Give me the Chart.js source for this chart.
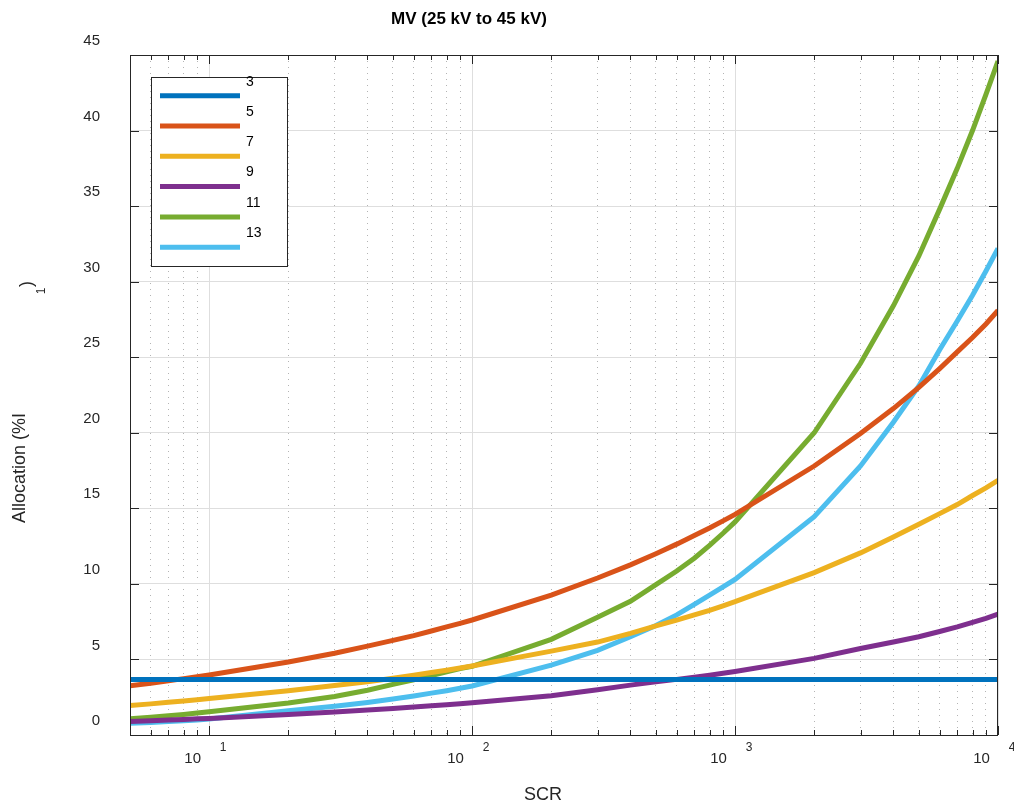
<!DOCTYPE html>
<html>
<head>
<meta charset="utf-8">
<script src="https://cdn.jsdelivr.net/npm/chart.js@4.4.1/dist/chart.umd.min.js"></script>
<style>
  html, body { margin: 0; padding: 0; background: #fff; }
</style>
</head>
<body>
<canvas id="c" width="1014" height="803"></canvas>
<script>
// ─── data ────────────────────────────────────────────────────────────────
const SCR = [5, 6, 7, 8, 9, 10, 20, 30, 40, 50, 60, 70, 80, 90,
  100, 200, 300, 400, 500, 600, 700, 800, 900,
  1000, 2000, 3000, 4000, 5000, 6000, 7000, 8000, 9000, 10000];

const H3  = [3.68, 3.68, 3.68, 3.68, 3.68, 3.68, 3.68, 3.68, 3.68, 3.68, 3.68, 3.68, 3.68, 3.68,
  3.68, 3.68, 3.68, 3.68, 3.68, 3.68, 3.68, 3.68, 3.68,
  3.68, 3.68, 3.68, 3.68, 3.68, 3.68, 3.68, 3.68, 3.68, 3.68];
const H5  = [3.26, 3.43, 3.59, 3.73, 3.85, 3.97, 4.83, 5.41, 5.88, 6.26, 6.58, 6.88, 7.15, 7.39,
  7.61, 9.26, 10.39, 11.26, 12.0, 12.63, 13.2, 13.7, 14.17,
  14.6, 17.8, 19.95, 21.6, 23.0, 24.25, 25.35, 26.3, 27.2, 28.1];
const H7  = [1.96, 2.06, 2.16, 2.25, 2.33, 2.41, 2.93, 3.27, 3.53, 3.76, 3.95, 4.13, 4.29, 4.43,
  4.57, 5.55, 6.15, 6.72, 7.22, 7.6, 7.95, 8.25, 8.55,
  8.82, 10.75, 12.05, 13.1, 13.95, 14.65, 15.25, 15.85, 16.35, 16.85];
const H9  = [0.9, 0.95, 0.99, 1.03, 1.07, 1.1, 1.35, 1.52, 1.65, 1.76, 1.85, 1.93, 2.0, 2.07,
  2.14, 2.6, 3.0, 3.3, 3.52, 3.68, 3.82, 3.96, 4.08,
  4.2, 5.07, 5.72, 6.15, 6.5, 6.85, 7.15, 7.45, 7.72, 8.0];
const H11 = [1.08, 1.18, 1.27, 1.36, 1.45, 1.54, 2.12, 2.55, 2.96, 3.35, 3.65, 3.94, 4.18, 4.4,
  4.55, 6.33, 7.8, 8.85, 9.95, 10.85, 11.7, 12.55, 13.35,
  14.1, 20.0, 24.6, 28.4, 31.7, 34.8, 37.5, 40.0, 42.4, 44.6];
const H13 = [0.77, 0.83, 0.89, 0.95, 1.0, 1.06, 1.6, 1.9, 2.15, 2.38, 2.58, 2.77, 2.93, 3.09,
  3.24, 4.62, 5.6, 6.5, 7.25, 7.95, 8.65, 9.25, 9.8,
  10.3, 14.45, 17.8, 20.7, 23.1, 25.5, 27.4, 29.1, 30.7, 32.2];

const HARMONICS = ['3', '5', '7', '9', '11', '13'];
const SERIES    = [H3, H5, H7, H9, H11, H13];

const X_TICKS   = [6, 7, 8, 9, 10, 20, 30, 40, 50, 60, 70, 80, 90,
  100, 200, 300, 400, 500, 600, 700, 800, 900,
  1000, 2000, 3000, 4000, 5000, 6000, 7000, 8000, 9000, 10000];
const DECADES   = [10, 100, 1000, 10000];
const EXPONENTS = ['1', '2', '3', '4'];

// ─── styling ─────────────────────────────────────────────────────────────
const CC = {
  text:  '#262626',
  grid:  '#dedede',
  dots:  '#b4b4b4',
  lines: ['#0072BD', '#D95319', '#EDB120', '#7E2F8E', '#77AC30', '#4DBEEE'],
};
const FONT = '"Liberation Sans", Arial, Helvetica, sans-serif';

const isDecade = v => Math.abs(Math.log10(v) - Math.round(Math.log10(v))) < 1e-9;

// MATLAB-ish decorations: box, inward ticks, odd label placement, legend
const matlabDecor = {
  id: 'matlabDecor',
  afterDraw(chart) {
    const { ctx, chartArea: a, scales: { x, y } } = chart;
    ctx.save();

    // box + inward tick marks
    ctx.strokeStyle = CC.text;
    ctx.lineWidth = 1;
    ctx.beginPath();
    x.ticks.forEach(t => {
      const px = Math.round(x.getPixelForValue(t.value)) + 0.5;
      const len = isDecade(t.value) ? 9 : 5;
      ctx.moveTo(px, a.bottom); ctx.lineTo(px, a.bottom - len);
      ctx.moveTo(px, a.top);    ctx.lineTo(px, a.top + len);
    });
    y.ticks.forEach(t => {
      const py = Math.round(y.getPixelForValue(t.value)) + 0.5;
      ctx.moveTo(a.left, py);  ctx.lineTo(a.left + 9, py);
      ctx.moveTo(a.right, py); ctx.lineTo(a.right - 9, py);
    });
    ctx.stroke();
    ctx.strokeRect(a.left + 0.5, a.top + 0.5, a.right - a.left - 1, a.bottom - a.top);

    // x tick labels: "10" with a detached exponent
    ctx.fillStyle = CC.text;
    ctx.textAlign = 'center';
    ctx.textBaseline = 'middle';
    DECADES.forEach((d, i) => {
      const px = x.getPixelForValue(d);
      ctx.font = `15px ${FONT}`;
      ctx.fillText('10', px - 16.5, 759);
      ctx.font = `12px ${FONT}`;
      ctx.fillText(EXPONENTS[i], px + 14, 748);
    });

    // axis titles
    ctx.font = `18px ${FONT}`;
    ctx.fillText('SCR', 543, 795);

    ctx.save();
    ctx.translate(20, 468);
    ctx.rotate(-Math.PI / 2);
    ctx.fillText('Allocation (%I', 0, 0);
    ctx.restore();
    ctx.save();
    ctx.translate(27, 284);
    ctx.rotate(-Math.PI / 2);
    ctx.fillText(')', 0, 0);
    ctx.restore();
    ctx.save();
    ctx.translate(42, 291);
    ctx.rotate(-Math.PI / 2);
    ctx.font = `12px ${FONT}`;
    ctx.fillText('1', 0, 0);
    ctx.restore();

    // title
    ctx.fillStyle = '#000';
    ctx.font = `bold 17px ${FONT}`;
    ctx.fillText('MV (25 kV to 45 kV)', 469, 19);

    // legend
    ctx.fillStyle = '#fff';
    ctx.fillRect(151.5, 77.5, 136, 189);
    ctx.strokeStyle = CC.text;
    ctx.lineWidth = 1;
    ctx.strokeRect(151.5, 77.5, 136, 189);
    ctx.textAlign = 'left';
    ctx.font = `14px ${FONT}`;
    chart.data.datasets.forEach((ds, i) => {
      const ly = 95.7 + i * 30.3;
      ctx.strokeStyle = ds.borderColor;
      ctx.lineWidth = 5;
      ctx.beginPath();
      ctx.moveTo(160, ly); ctx.lineTo(240, ly);
      ctx.stroke();
      ctx.fillStyle = '#000';
      ctx.fillText(ds.label, 246, ly - 14);
    });

    ctx.restore();
  },
};

const datasets = SERIES.map((vals, i) => ({
  label: HARMONICS[i],
  data: SCR.map((s, j) => ({ x: s, y: vals[j] })),
  borderColor: CC.lines[i],
  backgroundColor: CC.lines[i],
  borderWidth: 5,
  pointRadius: 0,
  tension: 0,
  fill: false,
}));

new Chart(document.getElementById('c'), {
  type: 'line',
  data: { datasets },
  plugins: [matlabDecor],
  options: {
    responsive: false,
    animation: false,
    events: [],
    layout: { padding: { left: 0, top: 55, right: 16, bottom: 0 } },
    plugins: {
      legend: { display: false },
      title: { display: false },
      tooltip: { enabled: false },
    },
    scales: {
      x: {
        type: 'logarithmic',
        min: 5,
        max: 10000,
        afterBuildTicks: s => { s.ticks = X_TICKS.map(v => ({ value: v, major: isDecade(v) })); },
        afterFit: s => { s.height = 68; },
        ticks: { display: false },
        border: {
          display: false,
          dash: c => (c.tick && !isDecade(c.tick.value) ? [1, 5] : []),
        },
        grid: {
          drawTicks: false,
          lineWidth: 1,
          color: c => (c.tick && !isDecade(c.tick.value) ? CC.dots : CC.grid),
        },
      },
      y: {
        min: 0,
        max: 45,
        afterFit: s => { s.width = 130; },
        ticks: {
          stepSize: 5,
          color: CC.text,
          padding: 30,
          labelOffset: -14,
          font: { family: FONT, size: 15 },
        },
        border: { display: false },
        grid: { drawTicks: false, color: CC.grid, lineWidth: 1 },
      },
    },
  },
});
</script>
</body>
</html>
